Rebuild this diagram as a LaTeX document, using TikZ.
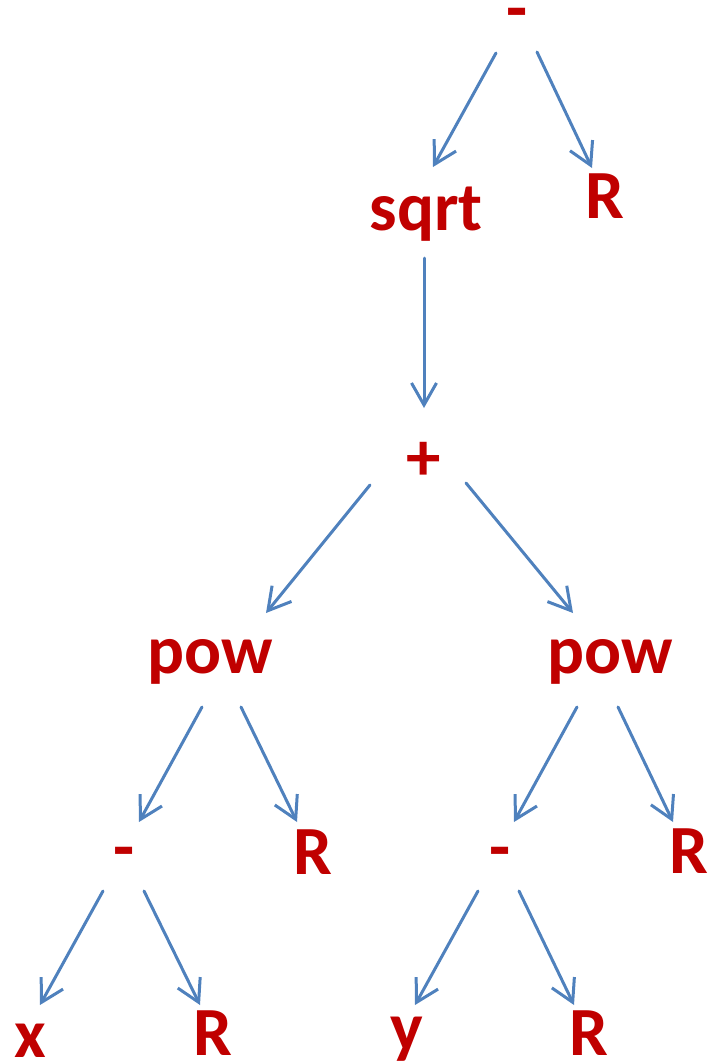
\documentclass[tikz,border=0pt]{standalone}
\usepackage{fontspec}
\setmainfont{Carlito}
\usetikzlibrary{arrows.meta,calc}
\definecolor{lbl}{RGB}{192,0,0}
\definecolor{arr}{RGB}{79,129,189}
\tikzset{
  lab/.style={anchor=base,inner sep=0pt,text=lbl,font=\fontsize{69}{80}\selectfont\bfseries},
  edge/.style={draw=arr,line width=3pt,line cap=round,line join=round,
    -{Straight Barb[length=22pt,width=25pt,line width=3pt]}}
}
\begin{document}
\begin{tikzpicture}[x=1pt,y=-1pt]
\useasboundingbox (0,0) rectangle (711,1061);
\node[lab] (m0) at (517.5,31) {-};
\node[lab] (r0) at (605,218) {R};
\node[lab] (sq) at (426,230) {sqrt};
\node[lab] (pl) at (424,480) {+};
\node[lab] (pwL) at (210.5,673) {pow};
\node[lab] (pwR) at (610,673) {pow};
\node[lab] (mL) at (124,870) {-};
\node[lab] (rL) at (312.5,874) {R};
\node[lab] (mR) at (500,870) {-};
\node[lab] (rR) at (689,873) {R};
\node[lab] (xx) at (30,1057) {x};
\node[lab] (rB1) at (213,1055) {R};
\node[lab] (yy) at (406.5,1050) {y};
\node[lab] (rB2) at (589,1055) {R};
\draw[edge] ($(m0.base)+(-21.5,22)$) -- ($(sq.base)+(7,-63)$);
\draw[edge] ($(m0.base)+(19.5,21)$) -- ($(r0.base)+(-13,-50)$);
\draw[edge] ($(sq.base)+(-2,28)$) -- ($(pl.base)+(0,-72)$);
\draw[edge] ($(pl.base)+(-54,5)$) -- ($(pwL.base)+(55.5,-60)$);
\draw[edge] ($(pl.base)+(42,3)$) -- ($(pwR.base)+(-37,-60)$);
\draw[edge] ($(pwL.base)+(-8.5,34)$) -- ($(mL.base)+(15,-48)$);
\draw[edge] ($(pwL.base)+(30.5,34)$) -- ($(rL.base)+(-15.5,-52)$);
\draw[edge] ($(pwR.base)+(-33,34)$) -- ($(mR.base)+(14,-48)$);
\draw[edge] ($(pwR.base)+(8,34)$) -- ($(rR.base)+(-16,-51)$);
\draw[edge] ($(mL.base)+(-21,21)$) -- ($(xx.base)+(10,-52)$);
\draw[edge] ($(mL.base)+(20,21)$) -- ($(rB1.base)+(-13,-50)$);
\draw[edge] ($(mR.base)+(-22,21)$) -- ($(yy.base)+(8.5,-45)$);
\draw[edge] ($(mR.base)+(19,21)$) -- ($(rB2.base)+(-15,-50)$);
\end{tikzpicture}
\end{document}
